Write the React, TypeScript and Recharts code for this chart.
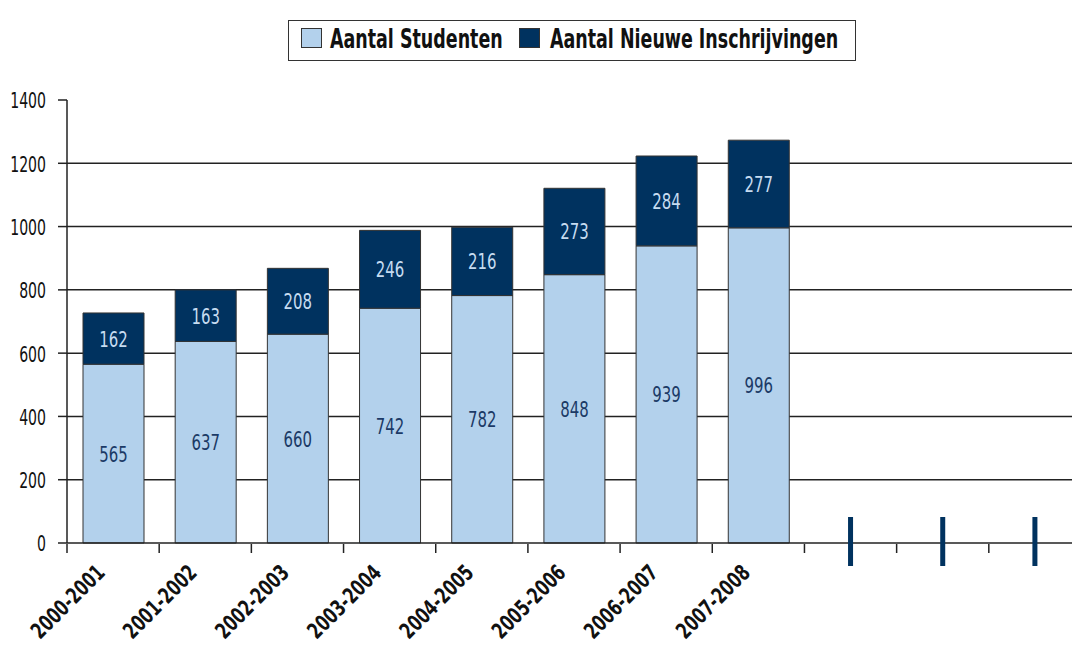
import React from 'react';
import { BarChart, Bar, XAxis, YAxis, CartesianGrid, Legend, LabelList } from 'recharts';

const categories = ['2000-2001', '2001-2002', '2002-2003', '2003-2004', '2004-2005', '2005-2006', '2006-2007', '2007-2008', '', '', ''];
const studenten = [565, 637, 660, 742, 782, 848, 939, 996, null, null, null];
const nieuweInschrijvingen = [162, 163, 208, 246, 216, 273, 284, 277, null, null, null];
const yTicks = [0, 200, 400, 600, 800, 1000, 1200, 1400];
const gridTicks = [200, 400, 600, 800, 1000, 1200];
const boundaryTicks = [-0.5, 0.5, 1.5, 2.5, 3.5, 4.5, 5.5, 6.5, 7.5, 8.5, 9.5, 10.5];

const seriesNames = ['Aantal Studenten', 'Aantal Nieuwe Inschrijvingen'];
const LIGHT = '#B3D1EC';
const DARK = '#00325F';
const FONT = "'DejaVu Sans', sans-serif";

const data = categories.map((c, i) => ({
  cat: c,
  slot: i,
  studenten: studenten[i],
  nieuwe: nieuweInschrijvingen[i],
}));

const XTick = (props: any) => {
  const { x, y, payload } = props;
  if (!payload || !payload.value) {
    return <rect x={x - 2.5} y={y - 26} width={5} height={49} fill={DARK} />;
  }
  return (
    <text
      x={0}
      y={0}
      transform={`translate(${x - 7}, ${y + 31}) rotate(-45) scale(0.71, 1)`}
      textAnchor="end"
      fontFamily={FONT}
      fontWeight="bold"
      fontSize={22}
      fill="#111"
    >
      {payload.value}
    </text>
  );
};

const YTick = (props: any) => {
  const { x, y, payload } = props;
  return (
    <text
      x={0}
      y={0}
      dy="0.38em"
      transform={`translate(${x}, ${y}) scale(0.64, 1)`}
      textAnchor="end"
      fontFamily={FONT}
      fontSize={22}
      fill="#111"
    >
      {payload.value}
    </text>
  );
};

const EmptyTick = () => <g />;

const makeBarLabel = (color: string) => (p: any) => {
  const vb = p.viewBox && p.viewBox.width !== undefined ? p.viewBox : p;
  if (p.value === null || p.value === undefined) return null;
  const cx = vb.x + vb.width / 2;
  const cy = vb.y + vb.height / 2;
  return (
    <text
      x={0}
      y={0}
      dy="0.36em"
      transform={`translate(${cx}, ${cy}) scale(0.68, 1)`}
      textAnchor="middle"
      fontFamily={FONT}
      fontSize={22}
      fill={color}
    >
      {p.value}
    </text>
  );
};

const LegendContent = () => (
  <svg width={568} height={41} style={{ display: 'block' }}>
    <rect x={0.5} y={0.5} width={567} height={40} fill="#fff" stroke="#333" strokeWidth={1} />
    <rect x={13.5} y={8.5} width={20} height={19} fill={LIGHT} stroke="#333" strokeWidth={1} />
    <text x={0} y={0} transform="translate(42, 28) scale(0.672, 1)" fontFamily={FONT} fontWeight="bold" fontSize={26} fill="#111">
      {seriesNames[0]}
    </text>
    <rect x={231.5} y={8.5} width={20} height={19} fill={DARK} stroke="#333" strokeWidth={1} />
    <text x={0} y={0} transform="translate(262, 28) scale(0.672, 1)" fontFamily={FONT} fontWeight="bold" fontSize={26} fill="#111">
      {seriesNames[1]}
    </text>
  </svg>
);

const gridGenerator = (args: any) => {
  const { yAxis, offset } = args || {};
  const s = yAxis && typeof yAxis.scale === 'function' ? yAxis.scale : null;
  return gridTicks.map((v) => (s ? s(v) : offset.top + offset.height * (1 - v / 1400)));
};

export default function App() {
  return (
    <div style={{ position: 'absolute', left: 0, top: 0, width: 1072, height: 647, overflow: 'hidden', background: '#fff' }}>
      <BarChart
        width={1081}
        height={647}
        data={data}
        margin={{ top: 100, right: 0, bottom: 102, left: 0 }}
        barSize={61}
      >
        <CartesianGrid
          vertical={false}
          stroke="#222"
          strokeWidth={1.5}
          horizontalCoordinatesGenerator={gridGenerator}
        />
        <YAxis
          domain={[0, 1400]}
          ticks={yTicks}
          type="number"
          width={67}
          axisLine={{ stroke: '#222', strokeWidth: 1.5 }}
          tickLine={{ stroke: '#222', strokeWidth: 1.5 }}
          tickSize={9}
          tickMargin={12}
          tick={<YTick />}
          interval={0}
        />
        <XAxis
          xAxisId="bounds"
          dataKey="slot"
          type="number"
          scale="linear"
          domain={[-0.5, 10.5]}
          ticks={boundaryTicks}
          allowDataOverflow
          height={1}
          axisLine={false}
          tick={<EmptyTick />}
          tickSize={9}
          tickLine={{ stroke: '#222', strokeWidth: 1.5 }}
          interval={0}
        />
        <XAxis
          dataKey="cat"
          height={1}
          interval={0}
          tickSize={0}
          tickMargin={0}
          tickLine={false}
          axisLine={{ stroke: '#222', strokeWidth: 1.5 }}
          tick={<XTick />}
        />
        <Legend
          layout="horizontal"
          verticalAlign="middle"
          align="center"
          wrapperStyle={{ top: 20, left: 288, width: 568, height: 41 }}
          content={<LegendContent />}
        />
        <Bar dataKey="studenten" name={seriesNames[0]} stackId="a" fill={LIGHT} stroke="#333" strokeWidth={1} isAnimationActive={false}>
          <LabelList dataKey="studenten" content={makeBarLabel('#1B3A66')} />
        </Bar>
        <Bar dataKey="nieuwe" name={seriesNames[1]} stackId="a" fill={DARK} stroke="#333" strokeWidth={1} isAnimationActive={false}>
          <LabelList dataKey="nieuwe" content={makeBarLabel('#C6DCF1')} />
        </Bar>
      </BarChart>
    </div>
  );
}
